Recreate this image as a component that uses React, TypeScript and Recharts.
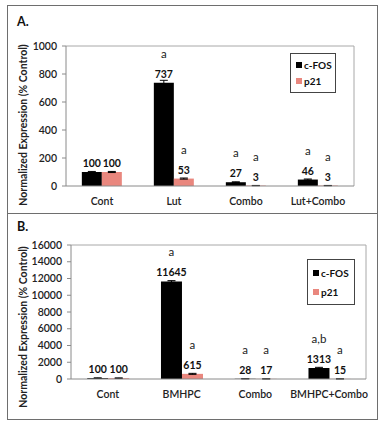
import { BarChart, Bar, XAxis, YAxis, LabelList, ErrorBar, Legend, Label, CartesianGrid } from 'recharts'

const FONT = 'Lato, "Open Sans", sans-serif'
const PINK = '#e9877e'

// panel A
const groupsA = ['Cont', 'Lut', 'Combo', 'Lut+Combo']
const cfosA = [100, 737, 27, 46]
const p21A = [100, 53, 3, 3]
const cfosErrA = [4, 18, 3, 4]
const p21ErrA = [4, 4, 1, 1]
const cfosSigA = ['', 'a', 'a', 'a']
const p21SigA = ['', 'a', 'a', 'a']
const ticksA = [0, 200, 400, 600, 800, 1000]

// panel B
const groupsB = ['Cont', 'BMHPC', 'Combo', 'BMHPC+Combo']
const cfosB = [100, 11645, 28, 1313]
const p21B = [100, 615, 17, 15]
const cfosErrB = [40, 100, 20, 80]
const p21ErrB = [30, 60, 10, 10]
const cfosSigB = ['', 'a', 'a', 'a,b']
const p21SigB = ['', 'a', 'a', 'a']
const ticksB = [0, 2000, 4000, 6000, 8000, 10000, 12000, 14000, 16000]

const build = (groups: string[], cfos: number[], p21: number[], ce: number[], pe: number[]) =>
  groups.map((name, i) => ({ name, cfos: cfos[i], p21: p21[i], cfosErr: ce[i], p21Err: pe[i] }))

const dataA = build(groupsA, cfosA, p21A, cfosErrA, p21ErrA)
const dataB = build(groupsB, cfosB, p21B, cfosErrB, p21ErrB)

const barLabel = (sig: string[]) => (props: any) => {
  const { x, y, width, value, index } = props
  const cx = Number(x) + Number(width) / 2
  return (
    <g>
      <text x={cx} y={Number(y) - 5} textAnchor="middle" fontSize={10.5} fontWeight={700} fill="#111" fontFamily={FONT}>
        {value}
      </text>
      {sig[index] ? (
        <text x={cx} y={Number(y) - 25} textAnchor="middle" fontSize={11.5} fill="#222" fontFamily={FONT}>
          {sig[index]}
        </text>
      ) : null}
    </g>
  )
}

const legendBox = (gap: number, width: number) => (props: any) => (
  <div
    style={{
      border: '1px solid #444',
      background: '#fff',
      width,
      padding: '3px 0 3px 5px',
      boxSizing: 'border-box',
      fontFamily: FONT,
      fontSize: 10,
      fontWeight: 700,
      color: '#111',
      whiteSpace: 'nowrap',
      lineHeight: 1,
    }}
  >
    {(props.payload || []).map((p: any) => (
      <div key={p.value} style={{ display: 'flex', alignItems: 'center', height: gap }}>
        <span style={{ display: 'inline-block', width: 6, height: 6, background: p.color, marginRight: 2 }} />
        {p.value}
      </div>
    ))}
  </div>
)

const axisTitle = (shift: number) => (props: any) => {
  const vb = props.viewBox || { x: 0, y: 0, width: 0, height: 0 }
  const cx = 23
  const cy = vb.y + vb.height / 2 + shift
  return (
    <text
      x={cx}
      y={cy}
      transform={`rotate(-90, ${cx}, ${cy})`}
      textAnchor="middle"
      dominantBaseline="central"
      fontSize={10.5}
      fontWeight={700}
      fill="#222"
      fontFamily={FONT}
    >
      Normalized Expression (% Control)
    </text>
  )
}

interface PanelProps {
  data: any[]
  ticks: number[]
  max: number
  cfosSig: string[]
  p21Sig: string[]
  margin: { top: number; right: number; bottom: number; left: number }
  yWidth: number
  titleShift: number
  legendPos: { left: number; top: number }
  legendGap: number
  legendWidth: number
}

function Panel(p: PanelProps) {
  const tickStyle = { fontSize: 10.5, fill: '#222', fontFamily: FONT, fontWeight: 600 }
  return (
    <BarChart width={384} height={214} data={p.data} margin={p.margin} barCategoryGap="22%" barGap={0}>
      {/* plot-area frame: top and right edges */}
      <CartesianGrid
        stroke="#a8a8a8"
        horizontalCoordinatesGenerator={({ offset }: any) => [offset.top]}
        verticalCoordinatesGenerator={({ offset }: any) => [offset.left + offset.width]}
      />
      <XAxis
        dataKey="name"
        tick={tickStyle}
        tickLine={false}
        tickMargin={6}
        axisLine={{ stroke: '#8a8a8a' }}
        height={20}
        interval={0}
      />
      <YAxis
        domain={[0, p.max]}
        ticks={p.ticks}
        tick={tickStyle}
        tickSize={4}
        tickMargin={5}
        tickLine={{ stroke: '#8a8a8a' }}
        axisLine={{ stroke: '#8a8a8a' }}
        width={p.yWidth}
        interval={0}
      >
        <Label content={axisTitle(p.titleShift)} />
      </YAxis>
      <Legend
        layout="vertical"
        align="center"
        verticalAlign="middle"
        content={legendBox(p.legendGap, p.legendWidth)}
        wrapperStyle={{ left: p.legendPos.left, top: p.legendPos.top, width: 'auto', bottom: 'auto', right: 'auto' }}
      />
      <Bar dataKey="cfos" name="c-FOS" fill="#000" isAnimationActive={false}>
        <ErrorBar dataKey="cfosErr" width={4} stroke="#000" strokeWidth={1} direction="y" />
        <LabelList dataKey="cfos" content={barLabel(p.cfosSig)} />
      </Bar>
      <Bar dataKey="p21" name="p21" fill={PINK} isAnimationActive={false}>
        <ErrorBar dataKey="p21Err" width={4} stroke="#000" strokeWidth={1} direction="y" />
        <LabelList dataKey="p21" content={barLabel(p.p21Sig)} />
      </Bar>
    </BarChart>
  )
}

export default function App() {
  const frame = { position: 'absolute' as const, left: 7, width: 371, border: '1px solid #6e6e6e', boxSizing: 'border-box' as const }
  const tag = { position: 'absolute' as const, left: 17, fontFamily: FONT, fontSize: 12.5, fontWeight: 700, color: '#111', lineHeight: 1 }
  return (
    <div style={{ position: 'absolute', left: 0, top: 0, width: 384, height: 428, background: '#fff' }}>
      <div style={{ ...frame, top: 5, height: 209 }} />
      <div style={{ ...frame, top: 213, height: 207 }} />
      <div style={{ ...tag, top: 16 }}>A.</div>
      <div style={{ ...tag, top: 221 }}>B.</div>
      <div style={{ position: 'absolute', left: 0, top: 0 }}>
        <Panel
          data={dataA}
          ticks={ticksA}
          max={1000}
          cfosSig={cfosSigA}
          p21Sig={p21SigA}
          margin={{ top: 46, right: 30, bottom: 8, left: 8 }}
          yWidth={58}
          titleShift={9}
          legendPos={{ left: 290, top: 53 }}
          legendGap={16}
          legendWidth={46}
        />
      </div>
      <div style={{ position: 'absolute', left: 0, top: 214 }}>
        <Panel
          data={dataB}
          ticks={ticksB}
          max={16000}
          cfosSig={cfosSigB}
          p21Sig={p21SigB}
          margin={{ top: 31, right: 18, bottom: 29, left: 8 }}
          yWidth={63}
          titleShift={15}
          legendPos={{ left: 307, top: 45 }}
          legendGap={19}
          legendWidth={48}
        />
      </div>
    </div>
  )
}
